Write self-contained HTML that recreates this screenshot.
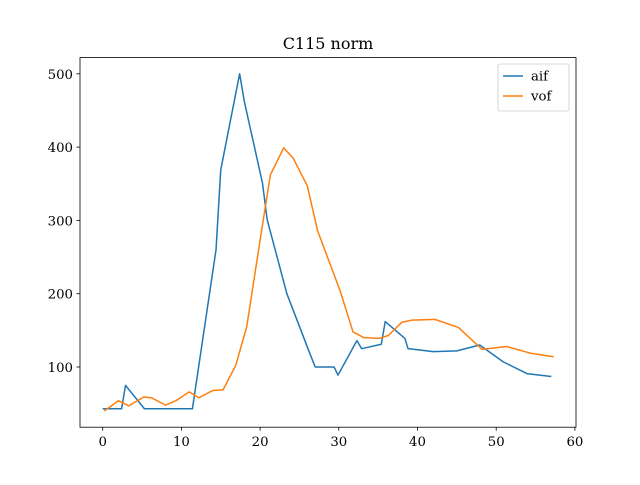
<!DOCTYPE html>
<html><head><meta charset="utf-8"><style>
body{margin:0;background:#fff}
svg text{font-family:"DejaVu Serif","Liberation Serif",serif;font-size:13.3px;fill:#000}
</style></head><body>
<svg id="chart" width="640" height="480" xmlns="http://www.w3.org/2000/svg">
<rect width="640" height="480" fill="#fff"/>
<text x="328" y="49" text-anchor="middle" style="font-size:16px">C115 norm</text>
<g id="ticks"></g>
<g id="series"></g>
<rect x="80" y="57.6" width="496" height="369.6" fill="none" stroke="#000" stroke-width="0.8"/>
<g>
<rect x="498" y="64" width="71" height="47" rx="2" fill="#fff" fill-opacity="0.8" stroke="#ccc" stroke-width="0.8"/>
<g><line x1="503" x2="523" y1="76" y2="76" stroke="#1f77b4" stroke-width="1.5"/><text x="531" y="80.5">aif</text></g>
<g><line x1="503" x2="523" y1="96" y2="96" stroke="#ff7f0e" stroke-width="1.5"/><text x="531" y="100.5">vof</text></g>
</g>
</svg>
<script>
const aifX=[0,2.4,2.9,5.3,11.4,14.4,15.0,17.4,18,20.3,20.9,23.4,26.3,27,29.4,29.9,32.3,32.9,35.4,35.9,38.4,38.8,42,45,47.9,50.9,53.9,57];
const aifY=[43,43,75,43,43,260,369,500,462,351,301,200,119,100,100,89,136,125,131,162,139,125,121,122,130,107,91,87];
const vofX=[0.2,2,3.3,5.2,6.2,8,9.3,11,12.2,14,15.3,16.9,18.3,20,21.3,23,24.2,26,27.3,30.2,31.8,33.2,35.1,36.3,38,39.3,42.2,45.2,48.2,51.3,54.3,57.3];
const vofY=[40,54,47,59,58,48,54,66,58,68,69,102,155,273,362,399,385,347,286,203,148,140,139,143,161,164,165,154,124,128,119,114];
const xTicks=[0,10,20,30,40,50,60];
const yTicks=[100,200,300,400,500];
const NS="http://www.w3.org/2000/svg";
const xS=v=>102.7+v*7.87;
const yS=v=>367-(v-100)*0.733;
const tg=document.getElementById('ticks');
function mk(t,a,p){const e=document.createElementNS(NS,t);for(const k in a)e.setAttribute(k,a[k]);p.appendChild(e);return e;}
xTicks.forEach(v=>{
 const l=mk('line',{x1:xS(v),x2:xS(v),y1:427.2,y2:430.7,stroke:'#000','stroke-width':0.8},tg);
 
 
 const t=mk('text',{x:xS(v),y:446,'text-anchor':'middle'},tg);t.textContent=v;
 
 
});
yTicks.forEach(v=>{
 const l=mk('line',{x1:76.5,x2:80,y1:yS(v),y2:yS(v),stroke:'#000','stroke-width':0.8},tg);
 
 
 const t=mk('text',{x:73,y:yS(v)+5,'text-anchor':'end'},tg);t.textContent=v;
 
 
});
const sg=document.getElementById('series');
function line(xs,ys,c,n){
 const p=mk('polyline',{points:xs.map((x,i)=>xS(x)+','+yS(ys[i])).join(' '),fill:'none',stroke:c,'stroke-width':1.5,'stroke-linejoin':'round'},sg);
 
 
}
line(aifX,aifY,'#1f77b4','aif-line');
line(vofX,vofY,'#ff7f0e','vof-line');
</script>
</body></html>
